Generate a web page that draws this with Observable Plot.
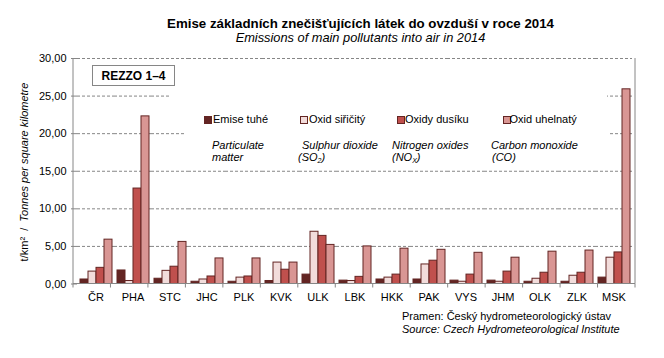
<!DOCTYPE html>
<html>
<head>
<meta charset="utf-8">
<script src="https://cdn.jsdelivr.net/npm/d3@7"></script>
<script src="https://cdn.jsdelivr.net/npm/@observablehq/plot@0.6"></script>
<style>
  html, body { margin: 0; padding: 0; background: #fff; }
  #wrap { position: relative; width: 664px; height: 358px; overflow: hidden;
          font-family: "Liberation Sans", Arial, sans-serif; color: #000; }
  .t { position: absolute; white-space: nowrap; line-height: 1; }
  .sq { position: absolute; width: 6px; height: 6px; border: 1px solid #632523; }
</style>
</head>
<body>
<div id="wrap"></div>
<script>
const categories = ["ČR","PHA","STC","JHC","PLK","KVK","ULK","LBK","HKK","PAK","VYS","JHM","OLK","ZLK","MSK"];
const seriesCz = ["Emise tuhé","Oxid siřičitý","Oxidy dusíku","Oxid uhelnatý"];
const seriesEn1 = ["Particulate","Sulphur dioxide","Nitrogen oxides","Carbon monoxide"];
const seriesEn2 = ["matter","(SO<sub>2</sub>)","(NO<sub>X</sub>)","(CO)"];
const emiseTuhe    = [0.6, 1.8, 0.7, 0.3, 0.3, 0.4, 1.25, 0.45, 0.6, 0.6, 0.45, 0.45, 0.3, 0.3, 0.85];
const oxidSiricity = [1.65, 0.4, 1.75, 0.6, 0.85, 2.85, 6.95, 0.4, 0.85, 2.6, 0.3, 0.3, 0.7, 1.1, 3.5];
const oxidyDusiku  = [2.15, 12.7, 2.3, 1.0, 1.0, 1.9, 6.4, 0.95, 1.25, 3.1, 1.25, 1.65, 1.5, 1.5, 4.2];
const oxidUhelnaty = [5.9, 22.3, 5.6, 3.4, 3.4, 2.85, 5.2, 5.0, 4.7, 4.55, 4.15, 3.5, 4.3, 4.45, 25.9];
const yTicks = [0, 5, 10, 15, 20, 25, 30];
const colors = ["#632523", "#F2DCDB", "#C0504D", "#D99694"];

const values = [emiseTuhe, oxidSiricity, oxidyDusiku, oxidUhelnaty];
const data = categories.flatMap((c, i) => seriesCz.map((s, j) => ({cat: c, series: s, value: values[j][i]})));
const fmt = d => d.toFixed(2).replace(".", ",");
const gray = "#868686";

const plot = Plot.plot({
  width: 664, height: 358,
  marginTop: 58, marginBottom: 74.5, marginLeft: 73, marginRight: 29,
  style: {fontFamily: '"Liberation Sans", Arial, sans-serif', fontSize: "11px", color: "#000", background: "transparent"},
  fx: {domain: categories, padding: 0, label: null},
  x: {domain: seriesCz, paddingInner: 0, paddingOuter: 0.22, axis: null},
  y: {domain: [0, 30], label: null},
  color: {domain: seriesCz, range: colors},
  marks: [
    Plot.ruleY(yTicks.filter(d => d > 0), {stroke: gray, strokeDasharray: "3,2"}),
    Plot.barY(data, {fx: "cat", x: "series", y: "value", fill: "series", stroke: "#632523", strokeWidth: 1}),
    Plot.axisY({ticks: yTicks, tickFormat: fmt, tickSize: 6, tickPadding: 5, stroke: gray, label: null}),
    Plot.axisFx({anchor: "bottom", tickSize: 0, tickPadding: 9, label: null})
  ]
});

const wrap = document.getElementById("wrap");
wrap.appendChild(plot);

// axis lines and category boundary ticks, from the plot's own scales
const fxs = plot.scale("fx");
const ys = plot.scale("y");
const fx = d3.scaleBand().domain(fxs.domain).range(fxs.range).padding(0);
const y = d3.scaleLinear().domain(ys.domain).range(ys.range);
const svg = d3.select(plot);
const g = svg.append("g").attr("stroke", gray).attr("stroke-width", 1);
const x0 = fx.range()[0], x1 = fx.range()[1];
const yb = y(0), yt = y(30);
g.append("line").attr("x1", x0).attr("x2", x0).attr("y1", yt).attr("y2", yb);
g.append("line").attr("x1", x1).attr("x2", x1).attr("y1", yt).attr("y2", yb);
g.append("line").attr("x1", x0).attr("x2", x1).attr("y1", yb).attr("y2", yb);
const bounds = categories.map(c => fx(c)).concat([x1]);
g.selectAll("line.b").data(bounds).join("line").attr("class", "b")
  .attr("x1", d => d).attr("x2", d => d).attr("y1", yb).attr("y2", yb + 4);

// overlays
function txt(html, left, baseline, size, extra) {
  const d = document.createElement("div");
  d.className = "t";
  d.innerHTML = html;
  d.style.left = left + "px";
  d.style.top = (baseline - 0.8465 * size) + "px";
  d.style.fontSize = size + "px";
  Object.assign(d.style, extra || {});
  wrap.appendChild(d);
  return d;
}
function box(left, top, w, h, extra) {
  const d = document.createElement("div");
  d.style.position = "absolute";
  d.style.left = left + "px"; d.style.top = top + "px";
  d.style.width = w + "px"; d.style.height = h + "px";
  d.style.background = "#fff";
  Object.assign(d.style, extra || {});
  wrap.appendChild(d);
  return d;
}

txt("Emise základních znečišťujících látek do ovzduší v roce 2014", 160, 28.4, 13.3, {fontWeight: "bold", width: "401px", textAlign: "center"});
txt("Emissions of main pollutants into air in 2014", 160, 43.2, 12.8, {fontStyle: "italic", width: "401px", textAlign: "center"});

// legend background boxes
box(169, 91, 438, 37);
box(185, 128, 425, 40);

const sqX = [204, 300, 397, 503];
const txX = [213, 309, 405, 509.5];
const en1X = [212, 302, 392, 491];
const en2X = [212, 298, 392, 492];
seriesCz.forEach((s, i) => {
  const q = document.createElement("div");
  q.className = "sq";
  q.style.left = sqX[i] + "px"; q.style.top = "116px";
  q.style.background = colors[i];
  wrap.appendChild(q);
  txt(s, txX[i], 123.3, 11);
  txt(seriesEn1[i], en1X[i], 149, 11, {fontStyle: "italic"});
  txt(seriesEn2[i], en2X[i], 161.3, 11, {fontStyle: "italic"});
});
wrap.querySelectorAll("sub").forEach(s => { s.style.fontSize = "7px"; s.style.verticalAlign = "-2px"; });

// REZZO box
const rz = box(92, 65, 81, 19, {border: "1.5px solid " + gray, font: "bold 12px 'Liberation Sans', Arial, sans-serif",
  display: "flex", alignItems: "center", justifyContent: "center"});
rz.textContent = "REZZO 1–4";

// y label
const yl = document.createElement("div");
yl.className = "t";
yl.style.fontSize = "11px";
yl.style.left = "24px"; yl.style.top = "172px";
yl.style.transform = "translate(-50%, -50%) rotate(-90deg)";
yl.innerHTML = "t/km²&nbsp;&nbsp;/&nbsp;&nbsp;<i>Tonnes per square kilometre</i>";
wrap.appendChild(yl);

// source
txt("Pramen: Český hydrometeorologický ústav", 402, 320, 11);
txt("Source: Czech Hydrometeorological Institute", 402, 333.3, 11, {fontStyle: "italic"});
</script>
</body>
</html>
